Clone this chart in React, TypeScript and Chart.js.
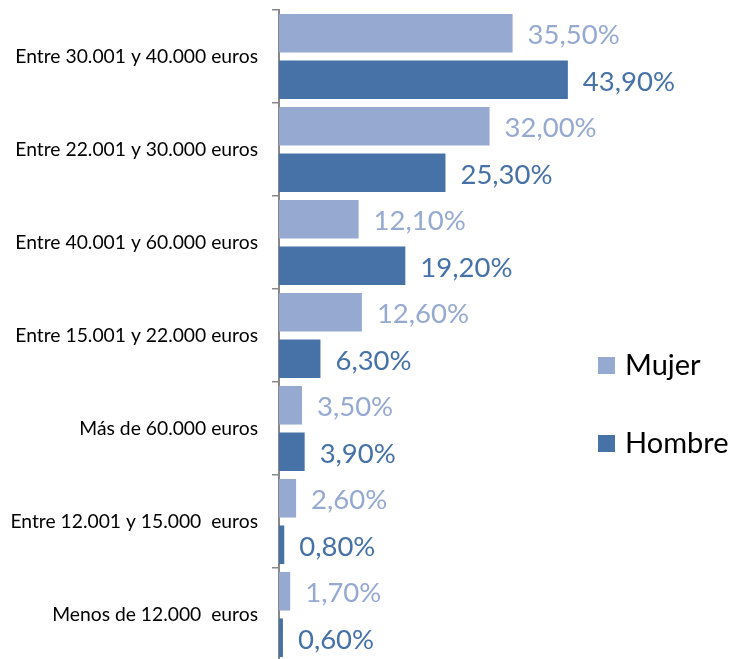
import React, { useEffect, useRef } from 'react';
import { Chart, registerables } from 'chart.js';

Chart.register(...registerables);

const categories = [
  'Entre 30.001 y 40.000 euros',
  'Entre 22.001 y 30.000 euros',
  'Entre 40.001 y 60.000 euros',
  'Entre 15.001 y 22.000 euros',
  'Más de 60.000 euros',
  'Entre 12.001 y 15.000  euros',
  'Menos de 12.000  euros',
];
const seriesNames = ['Mujer', 'Hombre'];
const mujerValues = [35.5, 32.0, 12.1, 12.6, 3.5, 2.6, 1.7];
const hombreValues = [43.9, 25.3, 19.2, 6.3, 3.9, 0.8, 0.6];

const MUJER_COLOR = '#95A9D1';
const HOMBRE_COLOR = '#4672A8';
const FONT = 'Lato, "Open Sans", sans-serif';

const fmt = (v: number) => v.toFixed(2).replace('.', ',') + '%';

const valueLabelPlugin = {
  id: 'valueLabels',
  afterDatasetsDraw(chart: any) {
    const ctx = chart.ctx;
    ctx.save();
    ctx.font = `27.5px ${FONT}`;
    ctx.textAlign = 'left';
    ctx.textBaseline = 'middle';
    chart.data.datasets.forEach((ds: any, i: number) => {
      const meta = chart.getDatasetMeta(i);
      ctx.fillStyle = ds.backgroundColor;
      meta.data.forEach((bar: any, j: number) => {
        ctx.fillText(fmt(ds.data[j]), bar.x + 15, bar.y + 2);
      });
    });
    ctx.restore();
  },
};

const sideLegendPlugin = {
  id: 'sideLegend',
  afterDraw(chart: any) {
    const ctx = chart.ctx;
    const x = chart.chartArea.right - 10;
    const ys = [365, 443];
    ctx.save();
    ctx.font = `29px ${FONT}`;
    ctx.textAlign = 'left';
    ctx.textBaseline = 'middle';
    chart.data.datasets.forEach((ds: any, i: number) => {
      ctx.fillStyle = ds.backgroundColor;
      ctx.fillRect(x, ys[i] - 8, 17, 17);
      ctx.fillStyle = '#000000';
      ctx.fillText(ds.label, x + 27, ys[i] + 1);
    });
    ctx.restore();
  },
};

export default function App() {
  const canvasRef = useRef<HTMLCanvasElement | null>(null);

  useEffect(() => {
    if (!canvasRef.current) return;
    const chart = new Chart(canvasRef.current, {
      type: 'bar',
      data: {
        labels: categories,
        datasets: [
          { label: seriesNames[0], data: mujerValues, backgroundColor: MUJER_COLOR },
          { label: seriesNames[1], data: hombreValues, backgroundColor: HOMBRE_COLOR },
        ],
      },
      options: {
        indexAxis: 'y',
        animation: false,
        responsive: true,
        maintainAspectRatio: false,
        layout: { autoPadding: false, padding: { top: 10, right: 121, bottom: 0, left: 0 } },
        datasets: {
          bar: { categoryPercentage: 1, barPercentage: 0.83 },
        },
        plugins: {
          legend: { display: false },
          tooltip: { enabled: false },
        },
        scales: {
          x: { display: false, min: 0, max: 50 },
          y: {
            grid: {
              display: true,
              drawOnChartArea: false,
              drawTicks: true,
              tickLength: 7,
              color: '#888888',
              lineWidth: 1.5,
            },
            border: { display: true, color: '#888888', width: 2 },
            ticks: {
              color: '#000000',
              font: { family: FONT, size: 19.3 },
              padding: 14,
            },
            afterFit: (scale: any) => {
              scale.width = 279;
              scale.paddingTop = 0;
              scale.paddingBottom = 0;
              if (scale._margins) {
                scale._margins.top = 0;
                scale._margins.bottom = 0;
              }
            },
          },
        },
      },
      plugins: [valueLabelPlugin, sideLegendPlugin],
    });
    return () => chart.destroy();
  }, []);

  return (
    <div style={{ position: 'fixed', left: 0, top: 0, width: 729, height: 659, overflow: 'hidden', background: '#fff' }}>
      <div style={{ position: 'relative', width: 729, height: 661 }}>
        <canvas ref={canvasRef} />
      </div>
    </div>
  );
}
